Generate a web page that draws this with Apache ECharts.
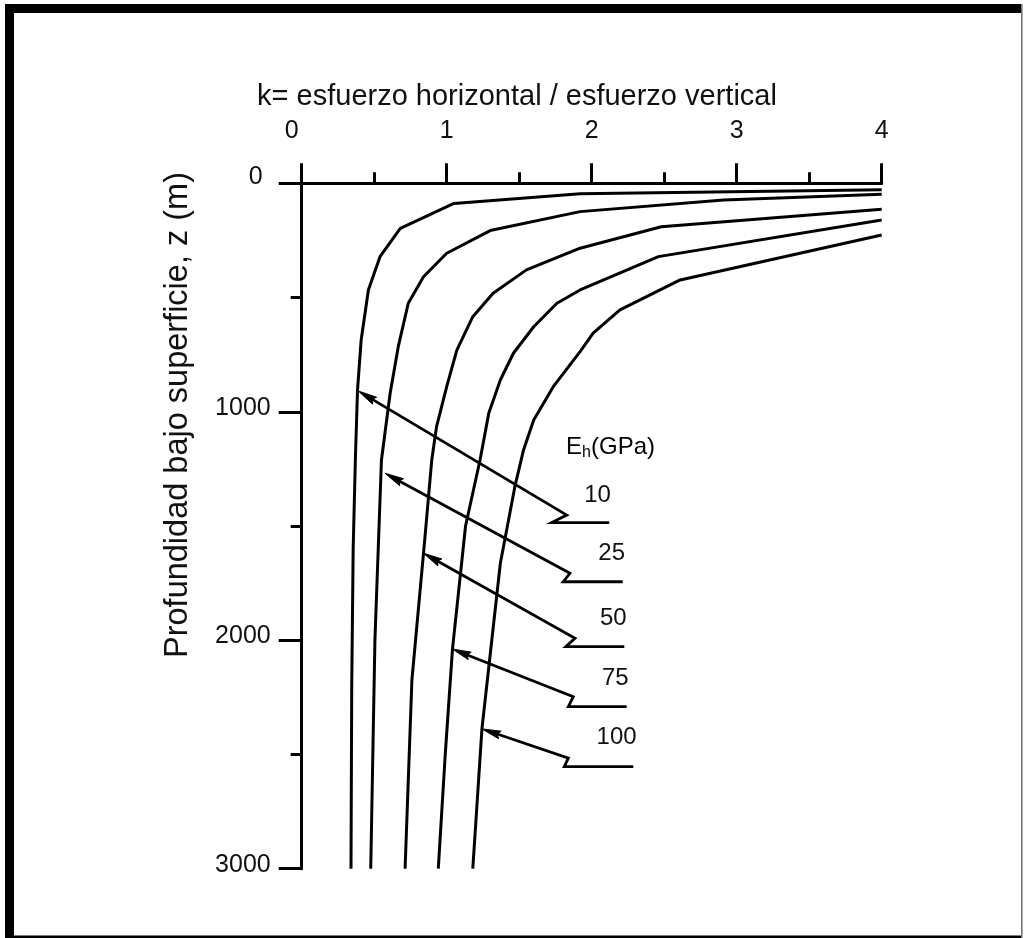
<!DOCTYPE html>
<html><head><meta charset="utf-8">
<script src="https://cdn.jsdelivr.net/npm/echarts@6/dist/echarts.min.js"></script>
<style>html,body{margin:0;padding:0;background:#fff}#c{width:1024px;height:938px}</style>
</head><body><div id="c"></div>
<script>
// ---- data ----
const xTickValues = [0, 1, 2, 3, 4];
const yTickValues = [0, 1000, 2000, 3000];
const titleText = 'k= esfuerzo horizontal / esfuerzo vertical';
const yTitleText = 'Profundidad bajo superficie, z (m)';
const moduli = ['10', '25', '50', '75', '100'];

// k ratio vs depth z (m) for each E_h curve
const k10  = [4.00, 1.92, 1.05, 0.68, 0.54, 0.46, 0.41, 0.385, 0.37, 0.355, 0.345, 0.34];
const z10  = [28,   46,   88,   197,  321,  467,  686,  904,   1211, 1600,  2200,  3000];
const k25  = [4.00, 2.91, 1.92, 1.30, 1.00, 0.84, 0.735, 0.666, 0.61, 0.55, 0.505, 0.476];
const z25  = [48,   73,   124,  207,  306,  409,  525,   715,   919,  1211, 2000,  3000];
const k50  = [4.00, 2.48, 1.92, 1.55, 1.32, 1.18, 1.07, 1.00, 0.93, 0.897, 0.85, 0.76, 0.713];
const z50  = [114,  190,  284,  379,  481,  584,  730,  890,  1065, 1211,  1550, 2175, 3000];
const k75  = [4.00, 2.46, 1.92, 1.76, 1.60, 1.46, 1.37, 1.29, 1.23, 1.13, 1.04, 0.99, 0.942];
const z75  = [161,  321,  467,  525,  628,  744,  861,  1007, 1211, 1500, 2038, 2500, 3000];
const k100 = [4.00, 2.61, 2.195, 2.01, 1.92, 1.735, 1.60, 1.53, 1.47, 1.37, 1.243, 1.18];
const z100 = [226,  423,  554,   656,  737,  890,   1036, 1167, 1328, 1663, 2388,  3000];

// leader arrows (data units): tip on curve, elbow, jog, end of underline, label anchor
const tipK   = [0.39, 0.574, 0.839, 1.037, 1.243];
const tipZ   = [909, 1269, 1619, 2038, 2388];
const elbowK = [1.828, 1.85, 1.885, 1.873, 1.839];
const elbowZ = [1452, 1707, 1991, 2247, 2516];
const jogK   = [1.724, 1.804, 1.821, 1.839, 1.811];
const jogZ   = [1485, 1744, 2028, 2291, 2553];
const endK   = [2.121, 2.214, 2.225, 2.241, 2.287];
const labK   = [2.04, 2.138, 2.149, 2.163, 2.172];
const labZ   = [1364, 1622, 1904, 2165, 2427];
const headerK = 2.13, headerZ = 1154;

// ---- chart ----
const FONT = "'Liberation Sans', Arial, Helvetica, sans-serif";
const chart = echarts.init(document.getElementById('c'), null, {renderer: 'canvas'});
const pairs = (ks, zs) => ks.map((k, i) => [k, zs[i]]);
const curves = [[k10, z10], [k25, z25], [k50, z50], [k75, z75], [k100, z100]];

const lineSeries = curves.map((c, i) => ({
  name: moduli[i], type: 'line', data: pairs(c[0], c[1]),
  showSymbol: false, symbol: 'none', clip: false,
  lineStyle: {color: '#000', width: 3}, z: 3
}));

const leaderData = moduli.map((m, i) => [tipK[i], tipZ[i], elbowK[i], elbowZ[i], jogK[i], jogZ[i], endK[i], labK[i], labZ[i], m]);

const leaderSeries = {
  type: 'custom', data: leaderData, clip: false, z: 4,
  renderItem: function (params, api) {
    const tip = api.coord([api.value(0), api.value(1)]);
    const elb = api.coord([api.value(2), api.value(3)]);
    const jog = api.coord([api.value(4), api.value(5)]);
    const end = api.coord([api.value(6), api.value(5)]);
    const lab = api.coord([api.value(7), api.value(8)]);
    const dx = tip[0] - elb[0], dy = tip[1] - elb[1];
    const len = Math.sqrt(dx * dx + dy * dy);
    const ux = dx / len, uy = dy / len;
    const L = 19, W = 4;
    const bx = tip[0] - ux * L, by = tip[1] - uy * L;
    return {
      type: 'group',
      children: [
        {type: 'polyline', shape: {points: [[bx + ux * 6, by + uy * 6], elb, jog, end]},
         style: {stroke: '#000', lineWidth: 2.8, fill: null, lineJoin: 'miter'}},
        {type: 'polygon', shape: {points: [tip, [bx - uy * W, by + ux * W], [bx + ux * 3, by + uy * 3], [bx + uy * W, by - ux * W]]},
         style: {fill: '#000', stroke: '#000', lineWidth: 1}},
        {type: 'text', style: {text: String(api.value(9)), x: lab[0], y: lab[1], align: 'center', verticalAlign: 'middle',
          font: '24px ' + FONT, fill: '#111'}}
      ]
    };
  }
};

chart.setOption({
  animation: false,
  backgroundColor: '#fff',
  grid: {left: 301.7, top: 183.3, width: 580, height: 685.4, containLabel: false},
  xAxis: {
    type: 'value', position: 'top', min: 0, max: 4, interval: 1,
    axisLine: {show: true, lineStyle: {color: '#000', width: 3}},
    axisTick: {show: true, inside: false, length: 20, lineStyle: {color: '#000', width: 3}},
    minorTick: {show: true, splitNumber: 2, length: 11, lineStyle: {color: '#000', width: 3}},
    splitLine: {show: false}, minorSplitLine: {show: false},
    axisLabel: {margin: 40, fontSize: 25, fontFamily: FONT, color: '#111',
      formatter: v => xTickValues.indexOf(v) < 0 ? '' : (v === 0 ? '{z|0}' : String(v)),
      rich: {z: {fontSize: 25, fontFamily: FONT, color: '#111', padding: [0, 20, 0, 0]}}}
  },
  yAxis: {
    type: 'value', inverse: true, min: 0, max: 3000, interval: 1000,
    axisLine: {show: true, lineStyle: {color: '#000', width: 3}},
    axisTick: {show: true, inside: false, length: 23, lineStyle: {color: '#000', width: 3}},
    minorTick: {show: true, splitNumber: 2, length: 11, lineStyle: {color: '#000', width: 3}},
    splitLine: {show: false}, minorSplitLine: {show: false},
    axisLabel: {margin: 31, fontSize: 25, fontFamily: FONT, color: '#111', verticalAlign: 'bottom', lineHeight: 8,
      formatter: v => yTickValues.indexOf(v) < 0 ? '' : (v === 0 ? '{z|0}' : String(v)),
      rich: {z: {fontSize: 25, fontFamily: FONT, color: '#111', lineHeight: 12, padding: [0, 8, 0, 0]}}}
  },
  series: lineSeries.concat([leaderSeries])
});

const hp = chart.convertToPixel({gridIndex: 0}, [headerK, headerZ]);
chart.setOption({
  graphic: [
    // frame
    {type: 'rect', shape: {x: 5, y: 4, width: 9, height: 934}, style: {fill: '#000'}, silent: true},
    {type: 'rect', shape: {x: 5, y: 4, width: 1017, height: 9}, style: {fill: '#000'}, silent: true},
    {type: 'rect', shape: {x: 5, y: 935.5, width: 1017, height: 3}, style: {fill: '#000'}, silent: true},
    {type: 'rect', shape: {x: 1021, y: 4, width: 1.6, height: 934}, style: {fill: '#777'}, silent: true},
    // titles
    {type: 'text', x: 517, y: 97, style: {text: titleText, align: 'center', verticalAlign: 'middle',
      font: '29px ' + FONT, fill: '#111'}},
    {type: 'text', x: 178, y: 415, rotation: Math.PI / 2, style: {text: yTitleText, align: 'center', verticalAlign: 'middle',
      font: '32.5px ' + FONT, fill: '#111'}},
    {type: 'text', x: hp[0], y: hp[1], style: {
      text: '{a|E}{s|h}{a|(GPa)}', align: 'center', verticalAlign: 'middle',
      rich: {a: {fontSize: 24, fontFamily: FONT, color: '#111'},
             s: {fontSize: 16, fontFamily: FONT, color: '#111', verticalAlign: 'bottom', padding: [12, 0, 0, 0]}}
    }}
  ]
});
</script>
</body></html>
